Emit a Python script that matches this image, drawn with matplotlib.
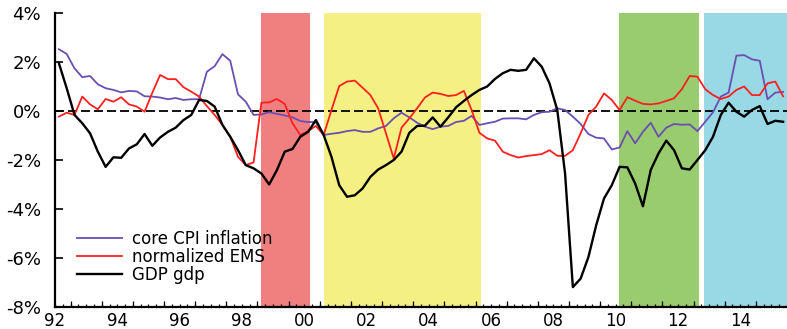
import numpy as np
import matplotlib
matplotlib.use("Agg")
import matplotlib.pyplot as plt

plt.rcParams["font.family"] = ["DejaVu Sans"]

# quarterly series, 1992Q3 .. 2015Q4 (percent)
core_cpi = [2.52, 2.33, 1.74, 1.38, 1.43, 1.09, 0.93, 0.86, 0.76, 0.82,
            0.80, 0.60, 0.59, 0.55, 0.48, 0.53, 0.45, 0.48, 0.48, 1.60,
            1.83, 2.32, 2.05, 0.68, 0.38, -0.16, -0.14, -0.05, -0.12, -0.18,
            -0.26, -0.41, -0.45, -0.46, -0.98, -0.93, -0.89, -0.82, -0.78, -0.85,
            -0.85, -0.71, -0.61, -0.30, -0.07, -0.26, -0.48, -0.64, -0.74, -0.64,
            -0.61, -0.45, -0.40, -0.20, -0.57, -0.50, -0.44, -0.31, -0.30, -0.30,
            -0.34, -0.16, -0.05, -0.03, 0.11, 0.04, -0.23, -0.53, -0.94, -1.09,
            -1.12, -1.57, -1.49, -0.82, -1.32, -0.85, -0.48, -1.05, -0.68, -0.53,
            -0.56, -0.55, -0.82, -0.44, -0.05, 0.59, 0.75, 2.26, 2.28, 2.11,
            2.05, 0.48, 0.75, 0.78]
ems = [-0.23, -0.07, -0.16, 0.59, 0.27, 0.07, 0.49, 0.38, 0.56, 0.27,
       0.18, -0.03, 0.75, 1.47, 1.30, 1.30, 0.97, 0.79, 0.59, 0.20,
       -0.16, -0.57, -1.05, -1.87, -2.21, -2.10, 0.34, 0.35, 0.49, 0.29,
       -0.50, -0.98, -0.82, -0.61, -0.98, 0.04, 1.02, 1.20, 1.24, 0.95,
       0.65, 0.11, -0.91, -1.94, -0.68, -0.30, 0.11, 0.55, 0.75, 0.70,
       0.61, 0.65, 0.82, 0.04, -0.89, -1.12, -1.21, -1.66, -1.80, -1.90,
       -1.84, -1.80, -1.76, -1.60, -1.83, -1.83, -1.60, -0.91, -0.16, 0.18,
       0.72, 0.45, 0.04, 0.56, 0.42, 0.29, 0.27, 0.31, 0.41, 0.52,
       0.89, 1.43, 1.40, 0.89, 0.65, 0.49, 0.59, 0.86, 1.00, 0.65,
       0.65, 1.13, 1.20, 0.60]
gdp = [1.95, 0.93, -0.16, -0.50, -0.91, -1.66, -2.28, -1.89, -1.91, -1.53,
       -1.36, -0.94, -1.42, -1.08, -0.85, -0.68, -0.37, -0.16, 0.45, 0.41,
       0.18, -0.57, -1.05, -1.60, -2.21, -2.34, -2.55, -3.00, -2.41, -1.66,
       -1.55, -1.05, -0.85, -0.37, -0.98, -1.87, -3.03, -3.50, -3.44, -3.16,
       -2.69, -2.39, -2.21, -2.00, -1.66, -0.89, -0.61, -0.60, -0.26, -0.64,
       -0.26, 0.15, 0.41, 0.65, 0.86, 1.00, 1.31, 1.54, 1.68, 1.64,
       1.68, 2.15, 1.81, 1.13, 0.04, -2.55, -7.19, -6.84, -5.96, -4.66,
       -3.57, -3.03, -2.28, -2.30, -2.96, -3.89, -2.41, -1.73, -1.21, -1.60,
       -2.34, -2.39, -2.00, -1.60, -1.05, -0.16, 0.34, -0.03, -0.23, 0.04,
       0.20, -0.53, -0.40, -0.44]

# shaded periods (start, end, colour)
periods = [(1999.125, 2000.70, "#F08080"),
           (2001.125, 2006.17, "#F5F083"),
           (2010.60, 2013.16, "#99CC6E"),
           (2013.35, 2016.0, "#99D8E5")]

year_labels = ["92", "94", "96", "98", "00", "02", "04", "06", "08", "10", "12", "14"]
y_ticks = [-8, -6, -4, -2, 0, 2, 4]

t = 1992.625 + 0.25 * np.arange(len(gdp))

fig = plt.figure(figsize=(7.87, 3.29), dpi=100)
ax = fig.add_axes([0.0699, 0.0669, 0.9301, 0.8936])

for a, b, c in periods:
    ax.axvspan(a, b, color=c, lw=0, zorder=0)

ax.axhline(0, color="black", lw=1.3, ls=(0, (5, 2.2)), zorder=2)
ax.plot(t, core_cpi, color="#6A4FB3", lw=1.3, label="core CPI inflation", zorder=3)
ax.plot(t, ems, color="#FF1F1F", lw=1.3, label="normalized EMS", zorder=4)
ax.plot(t, gdp, color="black", lw=1.7, label="GDP gdp", zorder=5)

ax.set_xlim(1992.5, 2016.0)
ax.set_ylim(-8, 4)

for s in ("top", "right"):
    ax.spines[s].set_visible(False)
for s in ("left", "bottom"):
    ax.spines[s].set_linewidth(1.6)

ax.set_yticks(y_ticks, [f"{v}%" for v in y_ticks])
ax.tick_params(axis="y", direction="in", length=6, width=1.2, pad=10, labelsize=13)

label_pos = [1992.5 + 2 * i for i in range(len(year_labels))]
ax.set_xticks(label_pos, year_labels)
ax.set_xticks(np.arange(1992.5, 2016.01, 0.25), minor=True)
ax.tick_params(axis="x", which="both", direction="in", length=2.5, width=0.9,
               pad=3.5, labelsize=12)

# taller ticks at year boundaries
sec = ax.secondary_xaxis("bottom")
sec.set_xticks(np.arange(1993, 2016), [])
sec.tick_params(direction="in", length=4.5, width=0.9)
sec.spines["bottom"].set_visible(False)

ax.legend(loc="center left", bbox_to_anchor=(0.03, 0.17), frameon=False,
          fontsize=12, handlelength=2.7, handletextpad=0.6,
          labelspacing=0.0, borderaxespad=0, borderpad=0)

fig.savefig("out.png", dpi=100, facecolor="white")
